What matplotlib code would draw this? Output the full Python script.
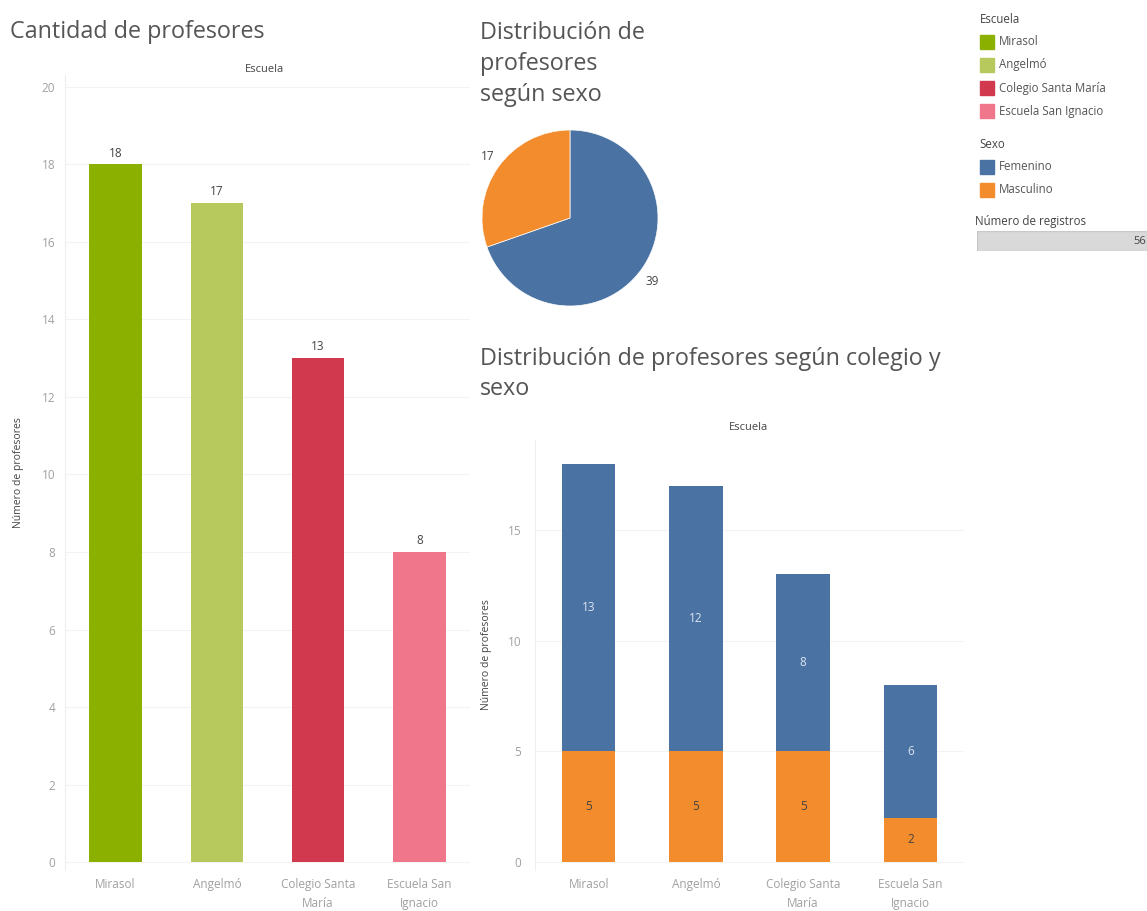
import matplotlib.pyplot as plt
from matplotlib.patches import Patch
import numpy as np

plt.rcParams['font.family'] = ['Open Sans', 'DejaVu Sans']

escuelas = ['Mirasol', 'Angelmó', 'Colegio Santa María', 'Escuela San Ignacio']
tick_labels = ['Mirasol', 'Angelmó', 'Colegio Santa\nMaría', 'Escuela San\nIgnacio']
total = [18, 17, 13, 8]
femenino = [13, 12, 8, 6]
masculino = [5, 5, 5, 2]
sexos = ['Femenino', 'Masculino']
sexo_total = [39, 17]
registros = 56

col_escuela = ['#8CB000', '#B7C95C', '#D1394F', '#F0778B']
col_sexo = ['#4A73A3', '#F28C2C']
grey = '#a0a0a0'
dark = '#444444'
title_col = '#555555'

fig = plt.figure(figsize=(11.47, 9.11), dpi=100)
W, H = 1147, 911


def px_axes(x0, y0, x1, y1):
    return fig.add_axes([x0 / W, 1 - y1 / H, (x1 - x0) / W, (y1 - y0) / H])


def style(ax):
    for s in ['top', 'right', 'bottom']:
        ax.spines[s].set_visible(False)
    ax.spines['left'].set_color('#eeeeee')
    ax.tick_params(length=0, colors=grey, labelsize=8.5)
    ax.tick_params(axis='x', pad=6)
    ax.grid(axis='y', color='#f3f3f3', lw=0.8)
    ax.set_axisbelow(True)
    for t in ax.get_xticklabels():
        t.set_linespacing(1.55)


# bar chart left
ax1 = px_axes(65, 75, 470, 870)
x = np.arange(len(escuelas))
ax1.bar(x, total, width=0.52, color=col_escuela)
for xi, v in zip(x, total):
    ax1.text(xi, v + 0.12, str(v), ha='center', va='bottom', fontsize=8.5, color=dark)
ax1.set_xlim(-0.5, 3.5)
ax1.set_ylim(-0.2, 20.3)
ax1.set_yticks(range(0, 21, 2))
ax1.set_xticks(x)
ax1.set_xticklabels(tick_labels)
style(ax1)
ax1.tick_params(axis='y', pad=7)
ax1.set_ylabel('Número de profesores', fontsize=7.5, color=dark)
ax1.yaxis.set_label_coords(-41 / 405, 0.5)
fig.text(10 / W, 1 - 32 / H, 'Cantidad de profesores', fontsize=16.8, color=title_col, va='center')
fig.text(265 / W, 1 - 70 / H, 'Escuela', fontsize=8, color=dark, ha='center', va='center')

# pie chart
ax2 = px_axes(482, 130, 658, 306)
ax2.pie(sexo_total, colors=col_sexo, startangle=90, counterclock=False,
        wedgeprops=dict(edgecolor='white', linewidth=0.5))
ax2.set_xlim(-1, 1)
ax2.set_ylim(-1, 1)
ax2.text(0.93, -0.72, str(sexo_total[0]), fontsize=8.5, color=dark, ha='center', va='center')
ax2.text(-0.93, 0.7, str(sexo_total[1]), fontsize=8.5, color=dark, ha='center', va='center')
fig.text(480 / W, 1 - 64 / H, 'Distribución de\nprofesores\nsegún sexo', fontsize=16.8,
         color=title_col, va='center', linespacing=1.4)

# stacked bar chart
ax3 = px_axes(535, 440, 964, 870)
ax3.bar(x, masculino, width=0.5, color=col_sexo[1])
ax3.bar(x, femenino, width=0.5, bottom=masculino, color=col_sexo[0])
for xi, m, f in zip(x, masculino, femenino):
    ax3.text(xi, m / 2, str(m), ha='center', va='center', fontsize=8.5, color=dark)
    ax3.text(xi, m + f / 2, str(f), ha='center', va='center', fontsize=8.5, color='#dde4f0')
ax3.set_xlim(-0.5, 3.5)
ax3.set_ylim(-0.36, 19.07)
ax3.set_yticks([0, 5, 10, 15])
ax3.set_xticks(x)
ax3.set_xticklabels(tick_labels)
style(ax3)
ax3.tick_params(axis='y', pad=10)
ax3.set_ylabel('Número de profesores', fontsize=7.5, color=dark)
ax3.yaxis.set_label_coords(-43 / 429, 0.5)
fig.text(480 / W, 1 - 374 / H, 'Distribución de profesores según colegio y\nsexo', fontsize=16.8,
         color=title_col, va='center', linespacing=1.3)
fig.text(749 / W, 1 - 428 / H, 'Escuela', fontsize=8, color=dark, ha='center', va='center')

# legends
legend_kw = dict(loc='upper left', frameon=False, fontsize=8.3, title_fontsize=8.3,
                 alignment='left', handlelength=1.25, handleheight=1.5,
                 handletextpad=0.45, labelspacing=0.78, borderaxespad=0)
h1 = [Patch(color=c) for c in col_escuela]
leg1 = fig.legend(h1, escuelas, title='Escuela', bbox_to_anchor=(975 / W, 1 - 8 / H), **legend_kw)
h2 = [Patch(color=c) for c in col_sexo]
leg2 = fig.legend(h2, sexos, title='Sexo', bbox_to_anchor=(975 / W, 1 - 133 / H), **legend_kw)
for leg in (leg1, leg2):
    for t in leg.get_texts():
        t.set_color('#555555')
    leg.get_title().set_color(dark)

fig.text(975 / W, 1 - 221 / H, 'Número de registros', fontsize=8.3, color=dark, va='center')
ax4 = px_axes(977, 231, 1147, 251)
ax4.barh([0], [registros], color='#d9d9d9', height=1, edgecolor='#c8c8c8')
ax4.set_xlim(0, registros)
ax4.set_ylim(-0.5, 0.5)
ax4.text(registros - 0.3, 0, str(registros), ha='right', va='center', fontsize=8, color=dark)
ax4.axis('off')

fig.savefig('out.png', dpi=100, facecolor='white')
